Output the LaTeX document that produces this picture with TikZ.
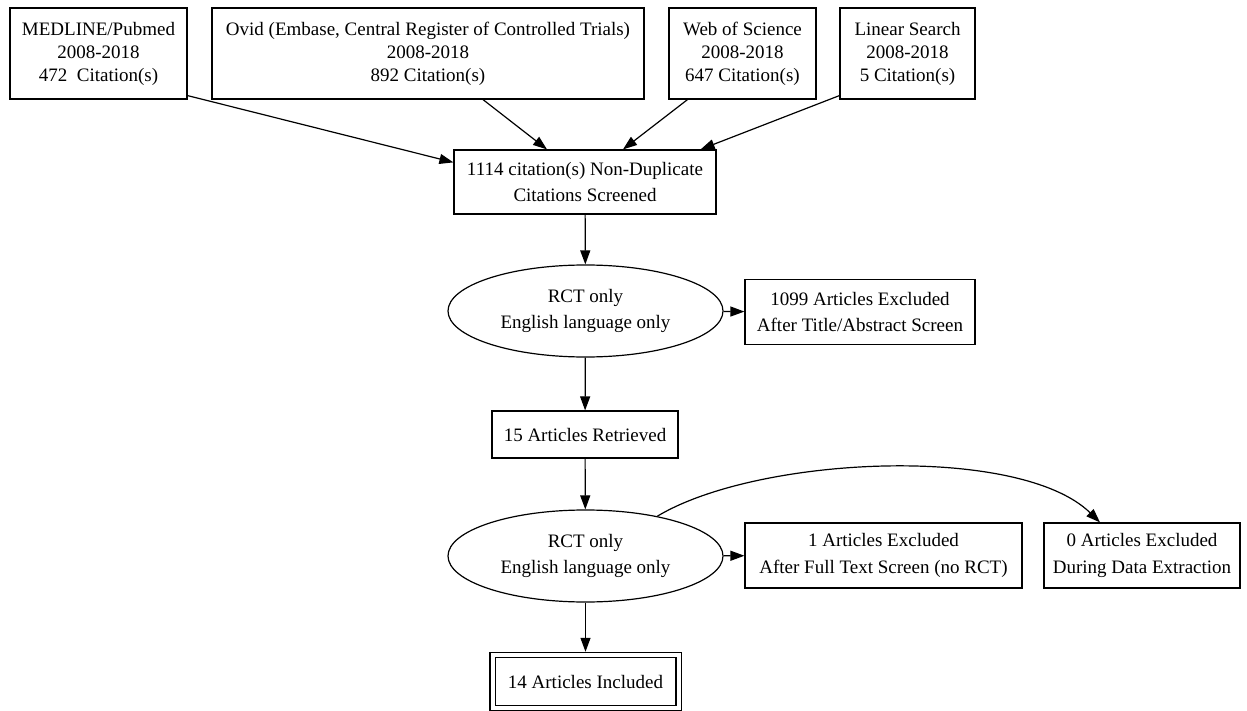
\documentclass[tikz,border=0pt]{standalone}
\usepackage{fontspec}
\setmainfont{Liberation Serif}
\usetikzlibrary{arrows.meta,shapes.geometric}
\begin{document}
\begin{tikzpicture}[
        x=1pt, y=-1pt,
        >={Triangle[length=14pt,width=10pt]},
        font=\fontsize{19}{23}\selectfont,
        box/.style={draw, line width=1.2pt, align=center, inner sep=0pt},
        twoline/.style={font=\fontsize{19}{26.5}\selectfont},
        oval/.style={draw, ellipse, line width=1.2pt, align=center, inner sep=0pt,
            minimum width=275pt, minimum height=92pt, twoline},
        link/.style={->, line width=1.2pt}
    ]
    \useasboundingbox (0,0) rectangle (1247,711);
    % sources
    \node[box, minimum width=177pt, minimum height=91pt] (medline) at (98.5,53.5)
        {MEDLINE/Pubmed\\2008-2018\\472\ \ Citation(s)};
    \node[box, minimum width=432pt, minimum height=91pt] (ovid) at (428,53.5)
        {Ovid (Embase, Central Register of Controlled Trials)\\2008-2018\\892 Citation(s)};
    \node[box, minimum width=147pt, minimum height=91pt] (wos) at (742.5,53.5)
        {Web of Science\\2008-2018\\647 Citation(s)};
    \node[box, minimum width=135pt, minimum height=91pt] (linear) at (907.5,53.5)
        {Linear Search\\2008-2018\\5 Citation(s)};
    % screening
    \node[box, twoline, minimum width=262pt, minimum height=64pt] (screened) at (585,182)
        {1114 citation(s) Non-Duplicate\\Citations Screened};
    \node[oval] (crit1) at (585.5,311)
        {RCT only\\English language only};
    \node[box, twoline, minimum width=230pt, minimum height=65pt] (excl1) at (860,312)
        {1099 Articles Excluded\\After Title/Abstract Screen};
    \node[box, minimum width=186pt, minimum height=47pt] (retrieved) at (585,434.5)
        {15 Articles Retrieved};
    \node[oval] (crit2) at (585.5,556)
        {RCT only\\English language only};
    \node[box, twoline, minimum width=277pt, minimum height=65pt] (excl2) at (883.5,555.5)
        {1 Articles Excluded\\After Full Text Screen (no RCT)};
    \node[box, twoline, minimum width=196pt, minimum height=65pt] (excl3) at (1142,555.5)
        {0 Articles Excluded\\During Data Extraction};
    \node[box, double, double distance=4pt, outer sep=3.2pt,
        minimum width=186pt, minimum height=53pt] (included) at (585.5,681.5)
        {14 Articles Included};
    % edges
    \draw[link] ([yshift=4pt]medline.south east) -- ([yshift=-13pt]screened.north west);
    \draw[link] ([xshift=55pt]ovid.south) -- ([xshift=-38pt]screened.north);
    \draw[link] ([xshift=-55pt]wos.south) -- ([xshift=38pt]screened.north);
    \draw[link] ([yshift=4pt]linear.south west) -- ([xshift=-16pt]screened.north east);
    \draw[link] (screened) -- (crit1);
    \draw[link] (crit1) -- (excl1);
    \draw[link] (crit1) -- (retrieved);
    \draw[link] (retrieved) -- (crit2);
    \draw[link] (crit2) -- (excl2);
    \draw[link] (crit2) -- (included);
    \draw[link] (crit2.29) .. controls +(102,-61) and +(-80,-78) .. ([xshift=-42pt]excl3.north);
\end{tikzpicture}
\end{document}
